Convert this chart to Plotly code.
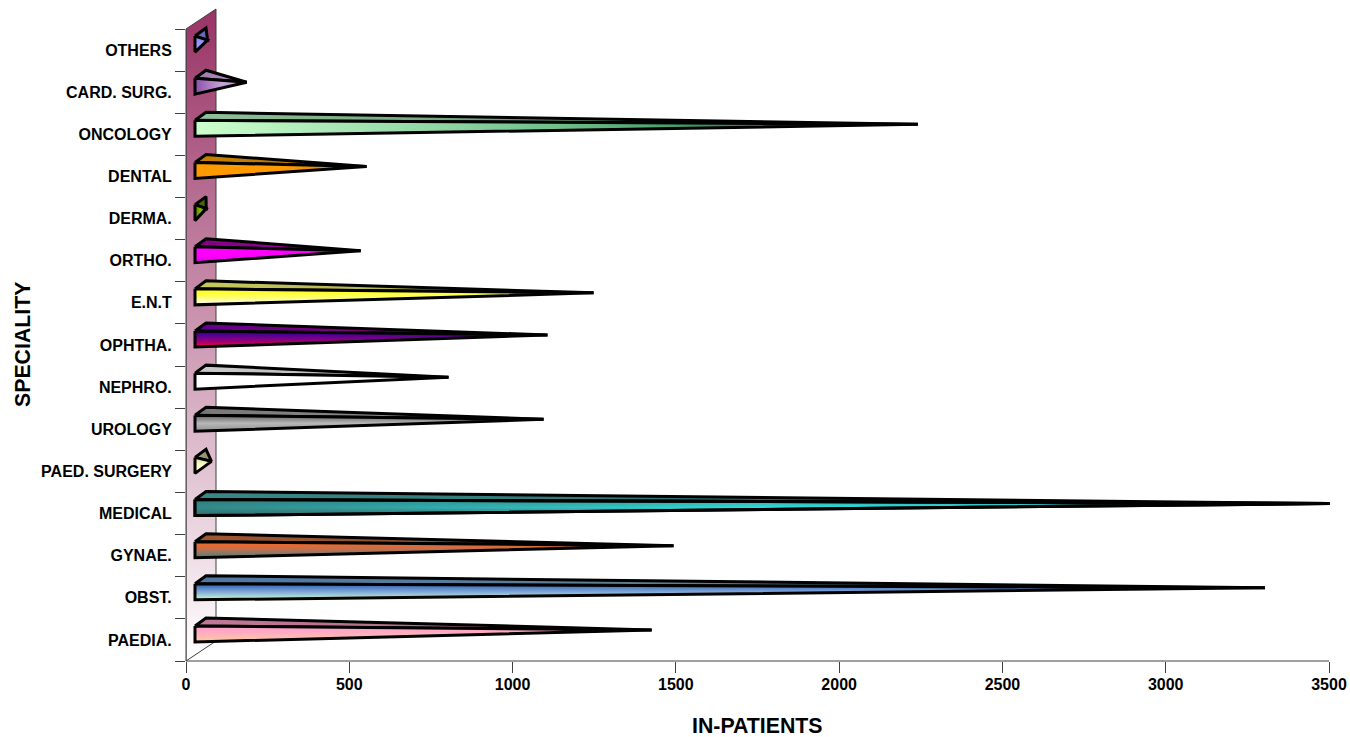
import plotly.graph_objects as go

categories = ["PAEDIA.", "OBST.", "GYNAE.", "MEDICAL", "PAED. SURGERY", "UROLOGY", "NEPHRO.",
              "OPHTHA.", "E.N.T", "ORTHO.", "DERMA.", "DENTAL", "ONCOLOGY", "CARD. SURG.", "OTHERS"]
in_patients = [1426, 3304, 1493, 3503, 78, 1095, 804, 1107, 1248, 535, 62, 553, 2241, 186, 66]
x_ticks = [0, 500, 1000, 1500, 2000, 2500, 3000, 3500]

# vertical colours are listed top to bottom, horizontal colours left to right
front_styles = [
    ("vertical", ["#FF99CC", "#FFB0C0", "#FFCC99"]),
    ("vertical", ["#2A5CB0", "#7FA8D8", "#CCFFCC"]),
    ("vertical", ["#FF6619", "#C07050", "#3F8585"]),
    ("vertical", ["#2FA8A8", "#33DADA", "#3C6A6A"]),
    ("vertical", ["#D8D8A0", "#FFFFCC", "#FFFFCC"]),
    ("vertical", ["#606060", "#B8B8B8", "#909090"]),
    ("vertical", ["#FFFFFF", "#FFFFFF", "#FFFFFF"]),
    ("vertical", ["#200090", "#600090", "#A00070", "#FF0040"]),
    ("vertical", ["#FFFF00", "#FFFF66", "#FFFFFF"]),
    ("vertical", ["#FF00FF", "#FF00FF", "#E000E0"]),
    ("horizontal", ["#557700", "#88BB00", "#557700"]),
    ("horizontal", ["#FF9900", "#FF9900", "#D88400"]),
    ("horizontal", ["#CCFFCC", "#A0E0B0", "#70C088", "#2F8F5F", "#2F8F5F"]),
    ("horizontal", ["#8A50A8", "#C8A0D8", "#C8A0D8"]),
    ("vertical", ["#8888EE", "#9999FF", "#9999FF"]),
]
top_styles = [
    ("horizontal", ["#C07898", "#A86880"]),
    ("horizontal", ["#5078A8", "#708878"]),
    ("horizontal", ["#A05530", "#705040"]),
    ("horizontal", ["#3A8888", "#285858"]),
    ("horizontal", ["#A0A080", "#909070"]),
    ("horizontal", ["#777777", "#999999"]),
    ("horizontal", ["#C8C8C8", "#B8B8B8"]),
    ("horizontal", ["#600090", "#A80060"]),
    ("horizontal", ["#C8C860", "#A0A040"]),
    ("horizontal", ["#800080", "#B000B0"]),
    ("horizontal", ["#4A6600", "#4A6600"]),
    ("horizontal", ["#C88000", "#B07000"]),
    ("horizontal", ["#90C098", "#3A7A50"]),
    ("horizontal", ["#A07CB0", "#B090C0"]),
    ("horizontal", ["#6868B8", "#6868B8"]),
]
# optional left-to-right shading laid over a front face
front_shades = {3: [[0, "rgba(50,110,110,0.75)"], [0.5, "rgba(50,110,110,0)"], [1, "rgba(50,110,110,0)"]]}

PX_X = 3500 / 1143.0      # data units per pixel, x
PX_Y = 15 / 632.0         # data units per pixel, y
BASE_X = 9 * PX_X
BACK_X = 20 * PX_X
WALL_X = 30 * PX_X
WALL_RISE = 20 * PX_Y
LINE = 3

fig = go.Figure()


def poly(xs, ys, gradient, color="black", width=LINE):
    fig.add_trace(go.Scatter(
        x=xs, y=ys, mode="lines", fill="toself", hoverinfo="skip", showlegend=False,
        line=dict(color=color, width=width), fillgradient=gradient,
    ))


def face(xs, ys, style):
    orient, cols = style
    if orient == "vertical":
        cols = cols[::-1]
    n = len(cols) - 1
    poly(xs, ys, dict(type=orient, colorscale=[[i / n, c] for i, c in enumerate(cols)]))


# back wall
poly([0, WALL_X, WALL_X, 0, 0], [0, WALL_RISE, 15 + WALL_RISE, 15, 0],
     dict(type="vertical", colorscale=[[0, "#FFFFFF"], [1, "#993366"]]), color="#404040", width=1)

for i, val in enumerate(in_patients):
    c = i + 0.5
    tip_x, tip_y = val, c + 10 * PX_Y
    f_top = c + 14 * PX_Y
    f_bot = c - 2 * PX_Y
    back_top = c + 22 * PX_Y
    face([BASE_X, BACK_X, tip_x, BASE_X], [f_top, back_top, tip_y, f_top], top_styles[i])
    face([BASE_X, tip_x, BASE_X, BASE_X], [f_top, tip_y, f_bot, f_top], front_styles[i])
    if i in front_shades:
        poly([BASE_X, tip_x, BASE_X, BASE_X], [f_top, tip_y, f_bot, f_top],
             dict(type="horizontal", colorscale=front_shades[i]))

font = dict(family="Liberation Sans", color="black", weight="bold")
fig.update_layout(
    width=1350, height=737, autosize=False,
    margin=dict(l=186, r=17, t=7, b=76, autoexpand=False),
    paper_bgcolor="white", plot_bgcolor="white", showlegend=False,
    xaxis=dict(range=[0, 3500 + 4 * PX_X], tickvals=x_ticks, ticks="outside", ticklen=11, tickcolor="#404040",
               showgrid=False, zeroline=False, showline=False, automargin=False, ticklabelstandoff=-2,
               tickfont=dict(size=16, **font)),
    yaxis=dict(range=[0, 15 + 22 * PX_Y], tickmode="array", tickvals=[i + 0.5 for i in range(15)],
               ticktext=categories, ticks="outside", ticklen=10, tickcolor="rgba(0,0,0,0)",
               minor=dict(tickmode="array", tickvals=list(range(16)), ticks="outside", ticklen=10,
                          tickcolor="#404040", showgrid=False),
               showgrid=False, zeroline=False, showline=False, automargin=False,
               tickfont=dict(size=16, **font)),
    shapes=[
        dict(type="line", xref="x", yref="paper", x0=0, x1=3500, y0=0, y1=0, line=dict(color="#404040", width=1)),
        dict(type="line", xref="paper", yref="y", x0=0, x1=0, y0=0, y1=15, line=dict(color="#404040", width=1)),
    ],
    annotations=[
        dict(text="IN-PATIENTS", xref="x", yref="paper", x=1750, y=0, yshift=-79, showarrow=False,
             font=dict(size=21.3, **font)),
        dict(text="SPECIALITY", xref="paper", yref="y", x=0, y=7.5, xshift=-177, textangle=-90, showarrow=False,
             font=dict(size=21.3, **font)),
    ],
)
fig.write_html("out.html", config={"displayModeBar": False}, post_script="document.body.style.margin='0';")
